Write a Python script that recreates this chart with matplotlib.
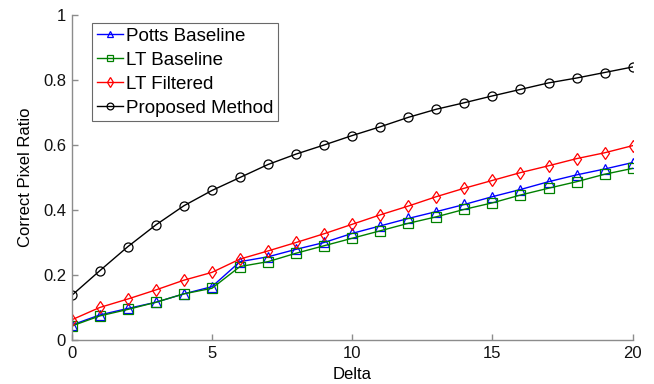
import numpy as np
import matplotlib
matplotlib.use("Agg")
import matplotlib.pyplot as plt

# ---------------- Data ----------------
delta = list(range(21))

potts_baseline = [0.046, 0.077, 0.097, 0.116, 0.142, 0.164, 0.241, 0.256, 0.279, 0.300,
                  0.328, 0.351, 0.374, 0.395, 0.417, 0.441, 0.463, 0.487, 0.508, 0.526, 0.546]
lt_baseline = [0.043, 0.074, 0.094, 0.116, 0.142, 0.159, 0.226, 0.241, 0.267, 0.290,
               0.313, 0.336, 0.359, 0.379, 0.402, 0.422, 0.446, 0.467, 0.487, 0.510, 0.528]
lt_filtered = [0.062, 0.100, 0.126, 0.154, 0.184, 0.208, 0.249, 0.274, 0.300, 0.327,
               0.356, 0.385, 0.412, 0.441, 0.467, 0.491, 0.515, 0.536, 0.558, 0.576, 0.598]
proposed = [0.137, 0.213, 0.287, 0.354, 0.413, 0.460, 0.500, 0.540, 0.572, 0.600,
            0.629, 0.656, 0.685, 0.710, 0.730, 0.751, 0.771, 0.791, 0.806, 0.823, 0.840]

series = [
    ("Potts Baseline", potts_baseline, "#0000ff", "^"),
    ("LT Baseline", lt_baseline, "#008000", "s"),
    ("LT Filtered", lt_filtered, "#ff0000", "d"),
    ("Proposed Method", proposed, "#000000", "o"),
]

plt.rcParams["font.family"] = ["Liberation Sans", "DejaVu Sans"]
plt.rcParams["font.size"] = 12

fig = plt.figure(figsize=(6.54, 3.84), dpi=100)
ax = fig.add_axes([0.1096, 0.1146, 0.8578, 0.8464])

for label, vals, color, marker in series:
    ax.plot(delta, vals, color=color, marker=marker, markersize=6.5,
            markerfacecolor="none", markeredgecolor=color, linewidth=1,
            markeredgewidth=0.9, label=label)

ax.set_xlim(0, 20)
ax.set_ylim(0, 1)
ax.set_xticks([0, 5, 10, 15, 20])
ax.set_yticks([0, 0.2, 0.4, 0.6, 0.8, 1.0])
ax.set_yticklabels(["0", "0.2", "0.4", "0.6", "0.8", "1"])
ax.set_xlabel("Delta", labelpad=5)
ax.set_ylabel("Correct Pixel Ratio", labelpad=7)

for side in ["top", "right"]:
    ax.spines[side].set_visible(False)
for side in ["left", "bottom"]:
    ax.spines[side].set_color("#8c8c8c")
    ax.spines[side].set_linewidth(1)
ax.tick_params(direction="in", color="#8c8c8c", length=4, width=1,
               labelsize=12, pad=4, labelcolor="#111111")

leg = ax.legend(loc="upper left", bbox_to_anchor=(0.036, 0.975), fontsize=13.5,
                frameon=True, fancybox=False, edgecolor="#444444",
                borderpad=0.25, labelspacing=0.36, handlelength=1.4,
                handletextpad=0.15, borderaxespad=0, markerscale=0.75)
leg.get_frame().set_linewidth(0.8)

fig.savefig("out.png", dpi=100)
